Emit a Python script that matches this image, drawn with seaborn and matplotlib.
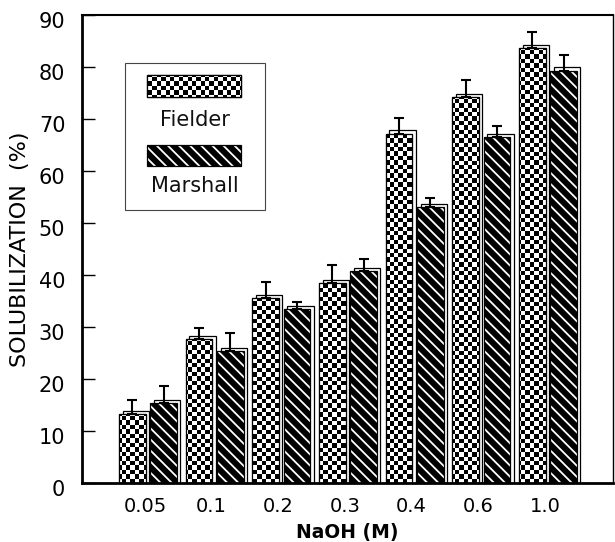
import numpy as np
import pandas as pd
import matplotlib
matplotlib.use("Agg")
import matplotlib.pyplot as plt
import seaborn as sns
from matplotlib.patches import Rectangle
from matplotlib.transforms import ScaledTranslation

# ---- data ----
concentrations = ["0.05", "0.1", "0.2", "0.3", "0.4", "0.6", "1.0"]
sources = ["Fielder", "Marshall"]
fielder = [13.3, 27.7, 35.6, 38.5, 67.2, 74.2, 83.6]
fielder_err = [2.7, 2.1, 3.1, 3.4, 2.9, 3.3, 3.1]
marshall = [15.3, 25.3, 33.4, 40.8, 53.0, 66.5, 79.3]
marshall_err = [3.3, 3.5, 1.5, 2.3, 1.8, 2.2, 3.0]
y_ticks = [0, 10, 20, 30, 40, 50, 60, 70, 80, 90]

sns.set_theme(style="white")
plt.rcParams["font.family"] = ["DejaVu Sans"]
plt.rcParams["text.color"] = "black"
plt.rcParams["axes.labelcolor"] = "black"
plt.rcParams["xtick.color"] = "black"
plt.rcParams["ytick.color"] = "black"
plt.rcParams["hatch.linewidth"] = 1.3

df = pd.DataFrame({
    "NaOH": concentrations * 2,
    "source": [sources[0]] * len(fielder) + [sources[1]] * len(marshall),
    "value": fielder + marshall,
})

fig = plt.figure(figsize=(6.15, 5.42), dpi=100)
ax = fig.add_axes([82 / 615, 59 / 542, 531 / 615, 468 / 542])

sns.barplot(data=df, x="NaOH", y="value", hue="source", order=concentrations,
            hue_order=sources, palette={"Fielder": "white", "Marshall": "black"},
            saturation=1, width=0.94, gap=0.15, errorbar=None, legend=False,
            ax=ax, zorder=2)

XL = (-0.99, 6.975)
YL = (0, 90)
ax.set_xlim(*XL)
ax.set_ylim(*YL)

# pixel -> data conversions
px_x = (XL[1] - XL[0]) / 531.0
px_y = (YL[1] - YL[0]) / 468.0

# checkerboard texture
sq = 4.4
ncol = int(round(531 / sq))
nrow = int(round(468 / sq))
ii, jj = np.indices((nrow, ncol))
checker = ((ii + jj) % 2).astype(float)


def add_checker(patch, z):
    im = ax.imshow(checker, extent=(XL[0], XL[1], YL[0], YL[1]), origin="lower",
                   cmap="gray_r", vmin=0, vmax=1, interpolation="nearest",
                   aspect="auto", zorder=z)
    im.set_clip_path(patch)
    return im


fbars = ax.containers[0]
mbars = ax.containers[1]

for cont, kind in ((fbars, "F"), (mbars, "M")):
    for p in cont:
        x, y = p.get_x(), p.get_y()
        w, h = p.get_width(), p.get_height()
        # offset "shadow" box
        ax.add_patch(Rectangle((x + 3.5 * px_x, y), w, h + 3.2 * px_y,
                               facecolor="white", edgecolor="black", lw=0.9,
                               zorder=1.5))
        if kind == "F":
            p.set_facecolor("white")
            p.set_edgecolor("black")
            p.set_linewidth(0.8)
            add_checker(p, 2.1)
        else:
            p.set_facecolor("black")
            p.set_edgecolor("white")
            p.set_linewidth(0)
            p.set_hatch("\\\\\\")
        ax.add_patch(Rectangle((x, y), w, h, facecolor="none", edgecolor="black",
                               lw=0.9, zorder=2.6))

# error bars (upper only)
for cont, vals, errs in ((fbars, fielder, fielder_err), (mbars, marshall, marshall_err)):
    xs = [p.get_x() + p.get_width() / 2 for p in cont]
    ax.errorbar(xs, vals, yerr=[np.zeros(len(errs)), errs], fmt="none",
                ecolor="black", elinewidth=1.5, capsize=3.8, capthick=1.5,
                zorder=3)

# axes styling
ax.set_yticks(y_ticks)
ax.tick_params(axis="y", direction="in", length=9, width=1, pad=12,
               labelsize=15, left=True, colors="black")
ax.tick_params(axis="x", length=0, pad=10, labelsize=14, colors="black")
ax.set_xlabel("NaOH (M)", fontsize=13.5, fontweight="bold", labelpad=5,
              color="black")
ax.set_ylabel("SOLUBILIZATION  (%)", fontsize=16, labelpad=6, color="black")
for side, lw in (("left", 2.0), ("bottom", 2.0), ("top", 1.5), ("right", 1.0)):
    ax.spines[side].set_visible(True)
    ax.spines[side].set_color("black")
    ax.spines[side].set_linewidth(lw)

# slight offsets of tick labels as in the printed figure
for lab in ax.get_yticklabels():
    lab.set_transform(lab.get_transform() + ScaledTranslation(0, -5 / 100, fig.dpi_scale_trans))
for lab in ax.get_xticklabels():
    lab.set_transform(lab.get_transform() + ScaledTranslation(-3 / 100, 0, fig.dpi_scale_trans))

# legend (manual, patches above labels)
ax.add_patch(Rectangle((0.081, 0.583), 0.264, 0.314, transform=ax.transAxes,
                       facecolor="white", edgecolor="#444444", lw=0.8, zorder=4))
leg_f = Rectangle((0.122, 0.825), 0.177, 0.047, transform=ax.transAxes,
                  facecolor="white", edgecolor="black", lw=0.9, zorder=4.2)
ax.add_patch(leg_f)
add_checker(leg_f, 4.3)
ax.add_patch(Rectangle((0.122, 0.825), 0.177, 0.047, transform=ax.transAxes,
                       facecolor="none", edgecolor="black", lw=0.9, zorder=4.4))
ax.add_patch(Rectangle((0.122, 0.677), 0.177, 0.045, transform=ax.transAxes,
                       facecolor="black", edgecolor="white", lw=0,
                       hatch="\\\\\\", zorder=4.2))
ax.add_patch(Rectangle((0.122, 0.677), 0.177, 0.045, transform=ax.transAxes,
                       facecolor="none", edgecolor="black", lw=0.9, zorder=4.4))
ax.text(0.213, 0.776, sources[0], transform=ax.transAxes, ha="center",
        va="center", fontsize=15, fontweight="normal", color="#111111", zorder=5)
ax.text(0.213, 0.635, sources[1], transform=ax.transAxes, ha="center",
        va="center", fontsize=15, fontweight="normal", color="#111111", zorder=5)

ax.set_xlim(*XL)
ax.set_ylim(*YL)
fig.savefig("out.png", dpi=100)
